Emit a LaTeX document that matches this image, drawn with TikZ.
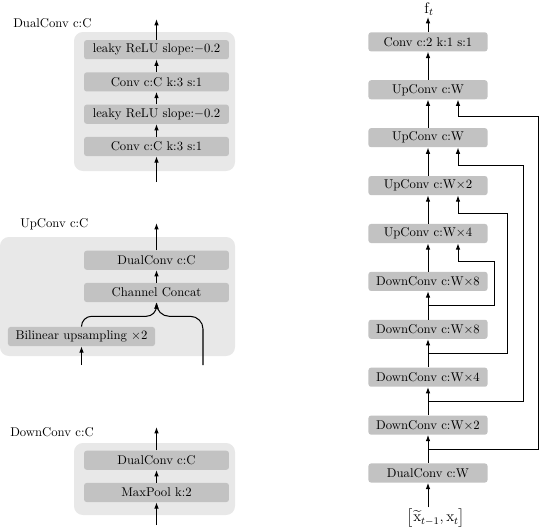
\documentclass[tikz,border=0pt]{standalone}
\usepackage{amsmath,amssymb}
\usetikzlibrary{arrows.meta,calc,positioning}
\definecolor{PanelGray}{gray}{0.91}
\definecolor{BoxGray}{gray}{0.76}

\begin{document}
\begin{tikzpicture}[x=0.787pt,y=-0.787pt,
    node distance=22.3pt,
    panel/.style={rounded corners=7pt,fill=PanelGray},
    blk/.style={rounded corners=2pt,fill=BoxGray,minimum height=15pt,
    inner sep=1pt,align=center,font=\normalsize},
    wideblk/.style={blk,minimum width=114pt},
    colblk/.style={blk,minimum width=93.7pt},
    title/.style={anchor=west,inner sep=0pt},
    arr/.style={-{Latex[length=5pt,width=3.6pt]},line width=0.8pt}]
    \useasboundingbox (0,0) rectangle (540,529);

    % DualConv block
    \fill[panel] (74,32) rectangle (235,171);
    \node[title] (dualtitle) at (13,22.7) {DualConv c:C};
    \node[wideblk] (conva) at (156.5,146.5) {Conv c:C k:3 s:1};
    \node[wideblk,above=10pt of conva] (leakya) {leaky ReLU slope:$-$0.2};
    \node[wideblk,above=10pt of leakya] (convb) {Conv c:C k:3 s:1};
    \node[wideblk,above=10pt of convb] (leakyb) {leaky ReLU slope:$-$0.2};
    \coordinate (dcin) at (156.5,182);
    \coordinate (dcout) at (156.5,19);
    \draw[arr] (dcin)--(conva);
    \draw[arr] (conva)--(leakya);
    \draw[arr] (leakya)--(convb);
    \draw[arr] (convb)--(leakyb);
    \draw[arr] (leakyb)--(dcout);

    % UpConv block
    \fill[panel] (0,237) rectangle (235,356);
    \node[title] (uptitle) at (20,224) {UpConv c:C};
    \node[blk,minimum width=115.7pt] (bilin) at (81.5,336.5) {Bilinear upsampling $\times$2};
    \node[wideblk] (concat) at (156.5,292.5) {Channel Concat};
    \node[wideblk,above=10pt of concat] (updual) {DualConv c:C};
    \coordinate (upin) at (81.5,365);
    \coordinate (upskip) at (203,365);
    \coordinate (upout) at (156.5,223);
    \draw[arr] (upin)--(bilin);
    \draw[arr,rounded corners=8pt] (bilin.north) |- ($(concat.south)+(0,14)$) -- (concat.south);
    \draw[arr,rounded corners=10pt] (upskip) |- ($(concat.south)+(0,14)$) -- (concat.south);
    \draw[arr] (concat)--(updual);
    \draw[arr] (updual)--(upout);

    % DownConv block
    \fill[panel] (74,443) rectangle (235,515);
    \node[title] (downtitle) at (10,432) {DownConv c:C};
    \node[wideblk] (maxpool) at (156.5,492.5) {MaxPool k:2};
    \node[wideblk,above=10pt of maxpool] (downdual) {DualConv c:C};
    \coordinate (downin) at (156.5,525);
    \coordinate (downout) at (156.5,427);
    \draw[arr] (downin)--(maxpool);
    \draw[arr] (maxpool)--(downdual);
    \draw[arr] (downdual)--(downout);

    % full network
    \node[inner sep=1pt,font=\large] (input) at (436,518) {$\bigl[\widetilde{\mathrm{x}}_{t-1},\mathrm{x}_t\bigr]$};
    \node[colblk] (dualw) at (428,473) {DualConv c:W};
    \node[colblk,above=of dualw] (down2) {DownConv c:W$\times$2};
    \node[colblk,above=of down2] (down4) {DownConv c:W$\times$4};
    \node[colblk,above=of down4] (down8a) {DownConv c:W$\times$8};
    \node[colblk,above=of down8a] (down8b) {DownConv c:W$\times$8};
    \node[colblk,above=of down8b] (up4) {UpConv c:W$\times$4};
    \node[colblk,above=of up4] (up2) {UpConv c:W$\times$2};
    \node[colblk,above=of up2] (upwa) {UpConv c:W};
    \node[colblk,above=of upwa] (upwb) {UpConv c:W};
    \node[colblk,above=of upwb] (convout) {Conv c:2 k:1 s:1};
    \node[inner sep=1pt,font=\large] (flow) at (429,9) {$\mathrm{f}_t$};
    \draw[arr] (input.north-|dualw.south)--(dualw);
    \draw[arr] (dualw)--(down2);
    \draw[arr] (down2)--(down4);
    \draw[arr] (down4)--(down8a);
    \draw[arr] (down8a)--(down8b);
    \draw[arr] (down8b)--(up4);
    \draw[arr] (up4)--(up2);
    \draw[arr] (up2)--(upwa);
    \draw[arr] (upwa)--(upwb);
    \draw[arr] (upwb)--(convout);
    \draw[arr] (convout)--(convout.north|-flow.south);

    % skip connections
    \draw[arr] ($(down8a.north)!.5!(down8b.south)$) -| ($(up4.south)+(66,18)$) -| ($(up4.south)+(30,0)$);
    \draw[arr] ($(down4.north)!.5!(down8a.south)$) -| ($(up2.south)+(79,18)$) -| ($(up2.south)+(30,0)$);
    \draw[arr] ($(down2.north)!.5!(down4.south)$) -| ($(upwa.south)+(95,18)$) -| ($(upwa.south)+(30,0)$);
    \draw[arr] ($(dualw.north)!.5!(down2.south)$) -| ($(upwb.south)+(110.5,17)$) -| ($(upwb.south)+(30,0)$);
  \end{tikzpicture}
\end{document}
